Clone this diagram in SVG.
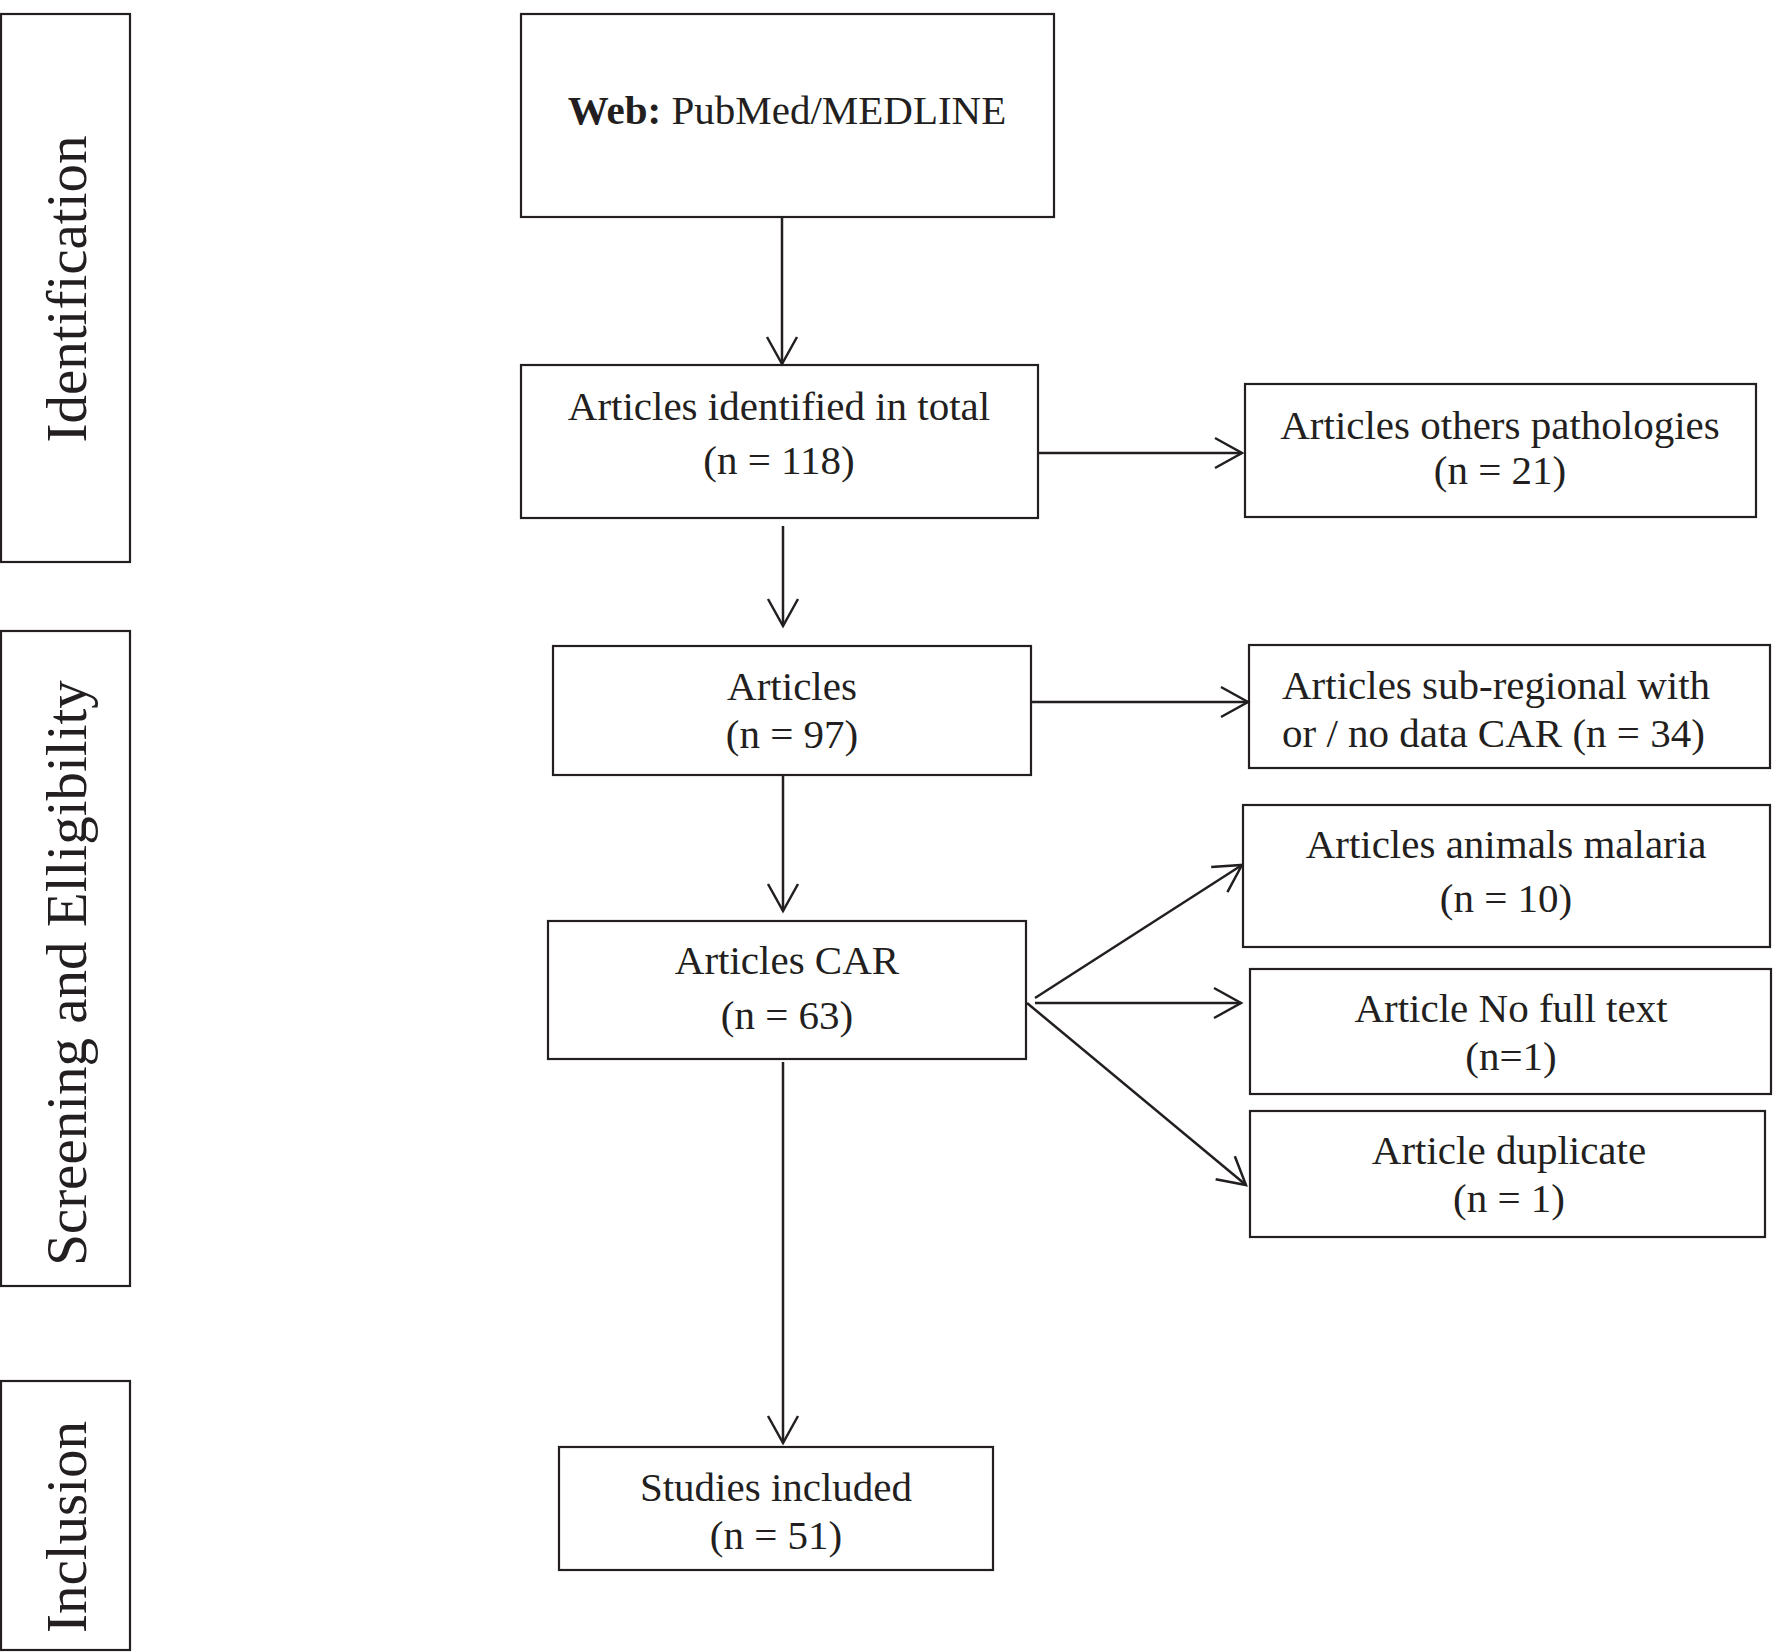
<svg xmlns="http://www.w3.org/2000/svg" width="1776" height="1652" viewBox="0 0 1776 1652">
  <style>
    .box { fill: #ffffff; stroke: #231f20; stroke-width: 2.2; }
    .txt { font-family: "Liberation Serif", "Times New Roman", serif; font-size: 41px; fill: #231f20; text-anchor: middle; }
    .side { font-family: "Liberation Serif", "Times New Roman", serif; font-size: 57px; fill: #231f20; text-anchor: middle; }
    .conn { fill: none; stroke: #231f20; stroke-width: 2.5; }
  </style>
  <defs>
    <marker id="arrow" markerUnits="userSpaceOnUse" markerWidth="40" markerHeight="40" viewBox="-32 -20 40 40" refX="0" refY="0" orient="auto" overflow="visible">
      <path d="M -27 -15 L 0 0 L -27 15" fill="none" stroke="#231f20" stroke-width="2.5" stroke-linejoin="miter"/>
    </marker>
  </defs>
  <rect width="1776" height="1652" fill="#ffffff"/>

  <g id="stage-identification">
    <rect class="box" x="1" y="14" width="129" height="548"/>
    <text class="side" x="86" y="289" transform="rotate(-90 86 289)">Identification</text>
  </g>
  <g id="stage-screening">
    <rect class="box" x="1" y="631" width="129" height="655"/>
    <text class="side" x="86" y="973" transform="rotate(-90 86 973)">Screening and Elligibility</text>
  </g>
  <g id="stage-inclusion">
    <rect class="box" x="1" y="1381" width="129" height="269"/>
    <text class="side" x="86" y="1527" transform="rotate(-90 86 1527)">Inclusion</text>
  </g>

  <g id="node-web">
    <rect class="box" x="521" y="14" width="533" height="203"/>
    <text class="txt" x="787" y="124"><tspan font-weight="bold">Web:</tspan> PubMed/MEDLINE</text>
  </g>
  <g id="node-identified">
    <rect class="box" x="521" y="365" width="517" height="153"/>
    <text class="txt" x="779" y="420">Articles identified in total</text>
    <text class="txt" x="779" y="474">(n = 118)</text>
  </g>
  <g id="node-others">
    <rect class="box" x="1245" y="384" width="511" height="133"/>
    <text class="txt" x="1500" y="439">Articles others pathologies</text>
    <text class="txt" x="1500" y="484">(n = 21)</text>
  </g>
  <g id="node-articles">
    <rect class="box" x="553" y="646" width="478" height="129"/>
    <text class="txt" x="792" y="700">Articles</text>
    <text class="txt" x="792" y="748">(n = 97)</text>
  </g>
  <g id="node-subregional">
    <rect class="box" x="1249" y="645" width="521" height="123"/>
    <text class="txt" x="1282" y="699" text-anchor="start" style="text-anchor:start">Articles sub-regional with</text>
    <text class="txt" x="1282" y="747" style="text-anchor:start">or / no data CAR (n = 34)</text>
  </g>
  <g id="node-car">
    <rect class="box" x="548" y="921" width="478" height="138"/>
    <text class="txt" x="787" y="974">Articles CAR</text>
    <text class="txt" x="787" y="1029">(n = 63)</text>
  </g>
  <g id="node-animals">
    <rect class="box" x="1243" y="805" width="527" height="142"/>
    <text class="txt" x="1506" y="858">Articles animals malaria</text>
    <text class="txt" x="1506" y="912">(n = 10)</text>
  </g>
  <g id="node-nofulltext">
    <rect class="box" x="1250" y="969" width="521" height="125"/>
    <text class="txt" x="1511" y="1022">Article No full text</text>
    <text class="txt" x="1511" y="1070">(n=1)</text>
  </g>
  <g id="node-duplicate">
    <rect class="box" x="1250" y="1111" width="515" height="126"/>
    <text class="txt" x="1509" y="1164">Article duplicate</text>
    <text class="txt" x="1509" y="1212">(n = 1)</text>
  </g>
  <g id="node-included">
    <rect class="box" x="559" y="1447" width="434" height="123"/>
    <text class="txt" x="776" y="1501">Studies included</text>
    <text class="txt" x="776" y="1549">(n = 51)</text>
  </g>

  <g id="connectors">
    <line class="conn" x1="782" y1="217" x2="782" y2="364" marker-end="url(#arrow)"/>
    <line class="conn" x1="783" y1="526" x2="783" y2="626" marker-end="url(#arrow)"/>
    <line class="conn" x1="1038" y1="453" x2="1242" y2="453" marker-end="url(#arrow)"/>
    <line class="conn" x1="783" y1="775" x2="783" y2="911" marker-end="url(#arrow)"/>
    <line class="conn" x1="1031" y1="702" x2="1248" y2="702" marker-end="url(#arrow)"/>
    <line class="conn" x1="1035" y1="998" x2="1242" y2="865" marker-end="url(#arrow)"/>
    <line class="conn" x1="1035" y1="1003" x2="1241" y2="1003" marker-end="url(#arrow)"/>
    <line class="conn" x1="1027" y1="1003" x2="1246" y2="1185" marker-end="url(#arrow)"/>
    <line class="conn" x1="783" y1="1062" x2="783" y2="1443" marker-end="url(#arrow)"/>
  </g>
</svg>
